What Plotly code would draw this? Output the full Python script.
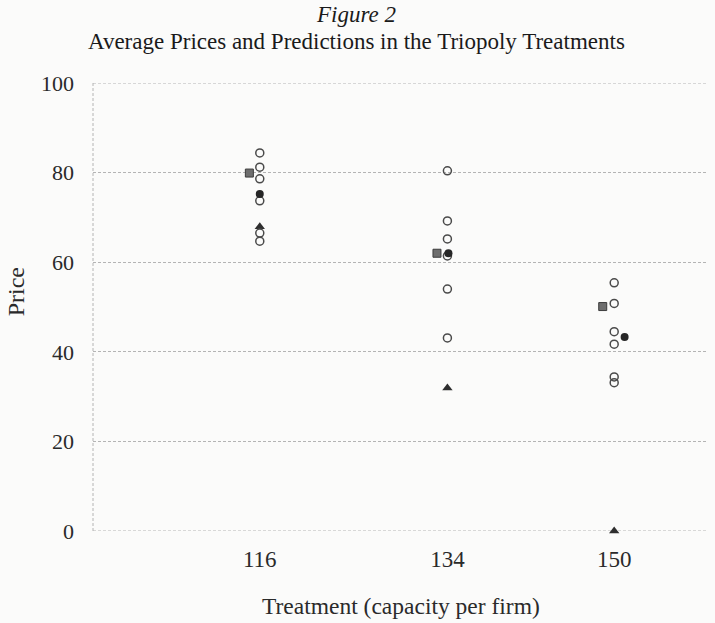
import plotly.graph_objects as go

treatments = [116, 134, 150]
tick_labels = ["116", "134", "150"]
y_ticks = [0, 20, 40, 60, 80, 100]

# Observed session average prices (open circles)
obs_116 = [84.4, 81.2, 78.6, 73.7, 66.5, 64.7]
obs_134 = [80.4, 69.2, 65.2, 61.4, 54.0, 43.1]
obs_150 = [55.4, 50.8, 44.5, 41.7, 34.4, 33.1]

# Predictions
square_x = [115.0, 133.0, 148.9]
square_y = [79.9, 62.0, 50.1]
filled_x = [116.0, 134.1, 151.0]
filled_y = [75.2, 62.0, 43.3]
triangle_x = [116.0, 134.0, 150.0]
triangle_y = [67.9, 31.9, 0.0]

FONT = "Liberation Serif, Times New Roman, serif"
TXT = "#2a2a2a"
GRID = "#b4b4b4"
DASH = "3px,2px"

fig = go.Figure()

obs_x = [116] * len(obs_116) + [134] * len(obs_134) + [150] * len(obs_150)
obs_y = obs_116 + obs_134 + obs_150

fig.add_trace(go.Scatter(x=triangle_x, y=triangle_y, mode="markers",
                         marker=dict(symbol="triangle-up", size=9, color="#2e2e2e"),
                         cliponaxis=False, showlegend=False))
fig.add_trace(go.Scatter(x=obs_x, y=obs_y, mode="markers",
                         marker=dict(symbol="circle-open", size=8, color="#4a4a4a",
                                     line=dict(width=1.5)),
                         cliponaxis=False, showlegend=False))
fig.add_trace(go.Scatter(x=square_x, y=square_y, mode="markers",
                         marker=dict(symbol="square", size=8, color="#6e6e6e",
                                     line=dict(color="#3c3c3c", width=1)),
                         cliponaxis=False, showlegend=False))
fig.add_trace(go.Scatter(x=filled_x, y=filled_y, mode="markers",
                         marker=dict(symbol="circle", size=8, color="#262626"),
                         cliponaxis=False, showlegend=False))

# left axis line and boundary gridlines (0 and 100)
fig.add_shape(type="line", xref="paper", yref="paper", x0=0, x1=0, y0=0, y1=1,
              line=dict(color=GRID, width=1, dash=DASH), layer="below")
for yv in (y_ticks[0], y_ticks[-1]):
    fig.add_shape(type="line", xref="paper", yref="y", x0=0, x1=1, y0=yv, y1=yv,
                  line=dict(color=GRID, width=1, dash=DASH), layer="below")

fig.add_annotation(text="<i>Figure 2</i>", xref="paper", yref="paper",
                   x=0.428, y=1.154, xanchor="center", yanchor="middle",
                   showarrow=False, font=dict(size=23, family=FONT, color="#1a1a1a"))
fig.add_annotation(text="Average Prices and Predictions in the Triopoly Treatments",
                   xref="paper", yref="paper", x=0.428, y=1.092,
                   xanchor="center", yanchor="middle",
                   showarrow=False, font=dict(size=23, family=FONT, color="#1a1a1a"))
fig.add_annotation(text="Treatment (capacity per firm)", xref="paper", yref="paper",
                   x=0.501, y=-0.167, xanchor="center", yanchor="middle",
                   showarrow=False, font=dict(size=23.5, family=FONT, color=TXT))
fig.add_annotation(text="Price", xref="paper", yref="paper", textangle=-90,
                   x=-0.125, y=0.533, xanchor="center", yanchor="middle",
                   showarrow=False, font=dict(size=24, family=FONT, color=TXT))

fig.update_layout(
    width=715, height=623,
    margin=dict(l=93, r=7, t=83, b=92),
    paper_bgcolor="#fbfbfa", plot_bgcolor="#fbfbfa",
    font=dict(family=FONT, color=TXT),
    xaxis=dict(range=[100, 159], tickvals=treatments, ticktext=tick_labels,
               showgrid=False, zeroline=False, showline=False, ticks="",
               tickfont=dict(size=23, family=FONT, color=TXT),
               ticklabelstandoff=12),
    yaxis=dict(range=[0, 100], tickvals=y_ticks,
               showgrid=True, gridcolor=GRID, griddash=DASH, gridwidth=1,
               zeroline=False, showline=False, ticks="",
               tickfont=dict(size=22, family=FONT, color=TXT),
               ticklabelstandoff=18),
)

fig.write_html("out.html")
